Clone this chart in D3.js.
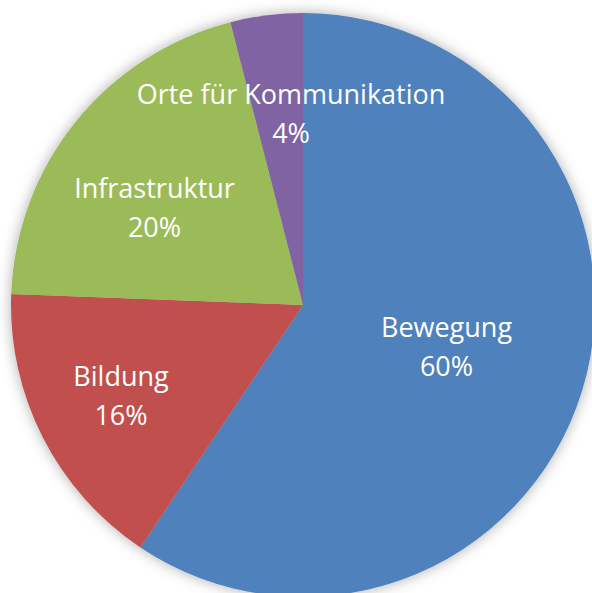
<!DOCTYPE html>
<html>
<head>
<meta charset="utf-8">
<script src="https://cdn.jsdelivr.net/npm/d3@7"></script>
<style>
  html, body { margin: 0; padding: 0; background: #fff; }
  svg { display: block; }
</style>
</head>
<body>
<svg id="chart" width="592" height="593"></svg>
<script>
// Data
const categories = ["Bewegung", "Bildung", "Infrastruktur", "Orte für Kommunikation"];
const values = [59.4, 16.2, 20.4, 4.0];
const percentLabels = ["60%", "16%", "20%", "4%"];
const colors = ["#4F81BD", "#C0504D", "#9BBB59", "#8064A2"];

// Layout
const cx = 303, cy = 305, R = 292;
// first-line baseline of each label, relative to pie center (px)
const labelOffsets = [[143.5, 32], [-182, 80.5], [-148.5, -107.5], [-12, -201]];
const lineGap = 39;

const svg = d3.select("#chart");
const defs = svg.append("defs");
const f = defs.append("filter").attr("id", "shadow")
  .attr("x", "-20%").attr("y", "-20%").attr("width", "140%").attr("height", "140%");
f.append("feDropShadow").attr("dx", 0).attr("dy", 0)
  .attr("stdDeviation", 7).attr("flood-color", "#000").attr("flood-opacity", 0.32);

const g = svg.append("g").attr("transform", `translate(${cx},${cy})`);

const pie = d3.pie().sort(null).value(d => d)(values);
const arc = d3.arc().innerRadius(0).outerRadius(R);

const slices = g.append("g").attr("filter", "url(#shadow)");
slices.selectAll("path").data(pie).join("path")
  .attr("d", arc)
  .attr("fill", (d, i) => colors[i]);

const labels = g.append("g")
  .attr("font-family", "'Segoe UI', 'Open Sans', 'Noto Sans', sans-serif")
  .attr("font-size", 27)
  .attr("fill", "#fff")
  .attr("text-anchor", "middle");

pie.forEach((d, i) => {
  const [ox, oy] = labelOffsets[i];
  const t = labels.append("text").attr("x", ox).attr("y", oy);
  t.append("tspan").attr("x", ox).text(categories[i]);
  t.append("tspan").attr("x", ox).attr("dy", lineGap).text(percentLabels[i]);
});
</script>
</body>
</html>
